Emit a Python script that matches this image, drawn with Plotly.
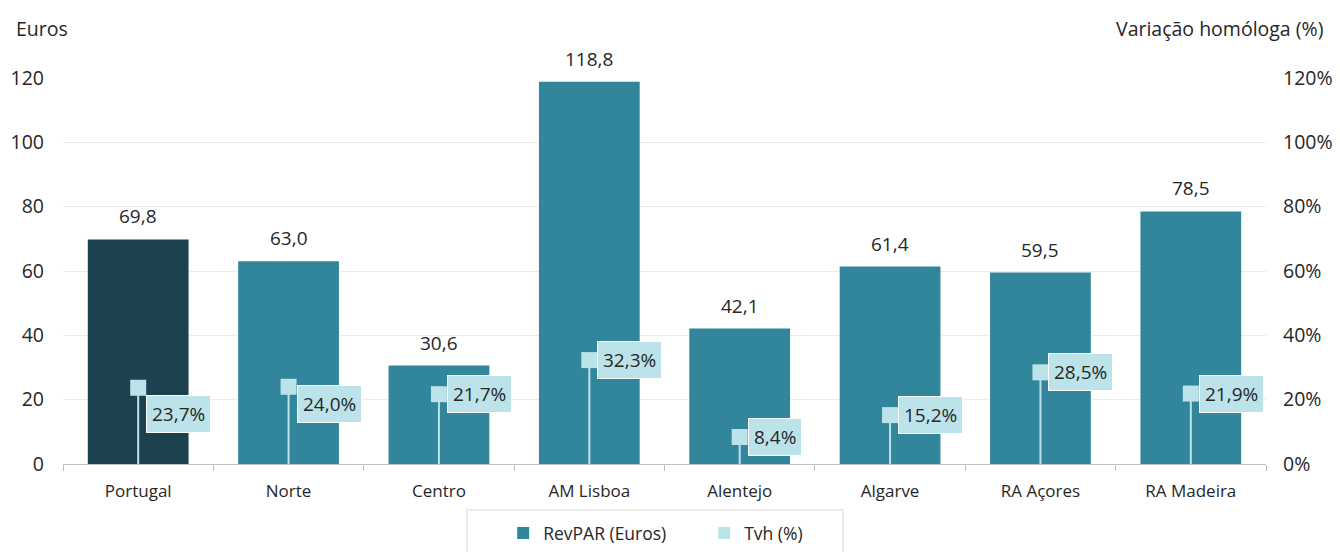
import plotly.graph_objects as go

# RevPAR by region (euros) and year-on-year change (%)
regions = ["Portugal", "Norte", "Centro", "AM Lisboa", "Alentejo", "Algarve", "RA Açores", "RA Madeira"]
revpar = [69.8, 63.0, 30.6, 118.8, 42.1, 61.4, 59.5, 78.5]
tvh = [23.7, 24.0, 21.7, 32.3, 8.4, 15.2, 28.5, 21.9]

euro_ticks = [0, 20, 40, 60, 80, 100, 120]
pct_ticks = [0, 20, 40, 60, 80, 100, 120]
pct_ticktext = ["0%", "20%", "40%", "60%", "80%", "100%", "120%"]

# vertical nudge (px) of the change labels so they stay clear of each other
label_dy = [-26, -17, 0, 0, 0, 0, 0, 0]

DARK = "#1c4250"
TEAL = "#31869b"
LIGHT = "#bde3ea"
TXT = "#262626"
FONT = "Open Sans, Noto Sans, sans-serif"


def fmt(v):
    return f"{v:.1f}".replace(".", ",")


fig = go.Figure()

# national total highlighted in a darker shade
fig.add_trace(go.Bar(
    x=regions[:1], y=revpar[:1], name="RevPAR (Euros)", showlegend=False,
    marker=dict(color=DARK, line=dict(width=0)), width=0.67, yaxis="y",
))
fig.add_trace(go.Bar(
    x=regions[1:], y=revpar[1:], name="RevPAR (Euros)",
    marker=dict(color=TEAL, line=dict(width=0)), width=0.67, yaxis="y",
))

fig.add_trace(go.Scatter(
    x=regions, y=tvh, name="Tvh (%)", mode="markers", yaxis="y2",
    marker=dict(symbol="square", size=16, color=LIGHT),
    error_y=dict(type="data", symmetric=False, array=[0] * len(tvh),
                 arrayminus=tvh, width=0, thickness=2, color=LIGHT),
))

# value labels above each bar
for r, v in zip(regions, revpar):
    fig.add_annotation(x=r, y=v, yref="y", text=fmt(v), showarrow=False,
                       yanchor="middle", yshift=23,
                       font=dict(family=FONT, size=19, color=TXT))

# boxed labels beside each change marker
for r, v, dy in zip(regions, tvh, label_dy):
    fig.add_annotation(x=r, y=v, yref="y2", text=fmt(v) + "%", showarrow=False,
                       xanchor="left", yanchor="middle", xshift=8, yshift=dy,
                       bgcolor=LIGHT, bordercolor="white", borderwidth=1, borderpad=5,
                       font=dict(family=FONT, size=19, color=TXT))

fig.add_annotation(xref="paper", yref="paper", x=0, xshift=-49, y=1.0, yshift=50,
                   text="Euros", showarrow=False, xanchor="left", yanchor="middle",
                   font=dict(family=FONT, size=19.5, color=TXT))
fig.add_annotation(xref="paper", yref="paper", x=1.0, xshift=59, y=1.0, yshift=50,
                   text="Variação homóloga (%)", showarrow=False, xanchor="right", yanchor="middle",
                   font=dict(family=FONT, size=19.5, color=TXT))

# frame around the legend
fig.add_shape(type="rect", xref="paper", yref="paper",
              x0=0.3358, x1=0.6484, y0=-0.119, y1=-0.26,
              line=dict(color="#d9d9d9", width=1), fillcolor="rgba(0,0,0,0)", layer="above")

fig.update_layout(
    width=1340, height=552,
    margin=dict(l=63, r=74, t=78, b=88, autoexpand=False),
    paper_bgcolor="white", plot_bgcolor="white",
    font=dict(family=FONT, size=17, color=TXT),
    barmode="overlay",
    showlegend=True,
    legend=dict(orientation="h", x=0.3659, xanchor="left", y=-0.1325, yanchor="top",
                borderwidth=0, bgcolor="rgba(0,0,0,0)",
                font=dict(family=FONT, size=17.5, color=TXT),
                entrywidth=156, itemsizing="constant", traceorder="normal"),
    xaxis=dict(type="category", categoryorder="array", categoryarray=regions,
               showline=True, linecolor="#bfbfbf", linewidth=1,
               ticks="outside", tickson="boundaries", ticklen=6, tickcolor="#bfbfbf",
               ticklabelstandoff=12,
               showgrid=False, tickfont=dict(family=FONT, size=17, color=TXT)),
    yaxis=dict(range=[0, 120], tickvals=euro_ticks, showgrid=True, gridcolor="#ececec",
               zeroline=False, showline=False, ticks="", ticklabelstandoff=18,
               tickfont=dict(family=FONT, size=19.5, color=TXT)),
    yaxis2=dict(range=[0, 120], tickvals=pct_ticks, ticktext=pct_ticktext, overlaying="y",
                side="right", showgrid=False, zeroline=False, showline=False, ticks="",
                ticklabelstandoff=16, tickfont=dict(family=FONT, size=19.5, color=TXT)),
)

fig.write_html("out.html")
